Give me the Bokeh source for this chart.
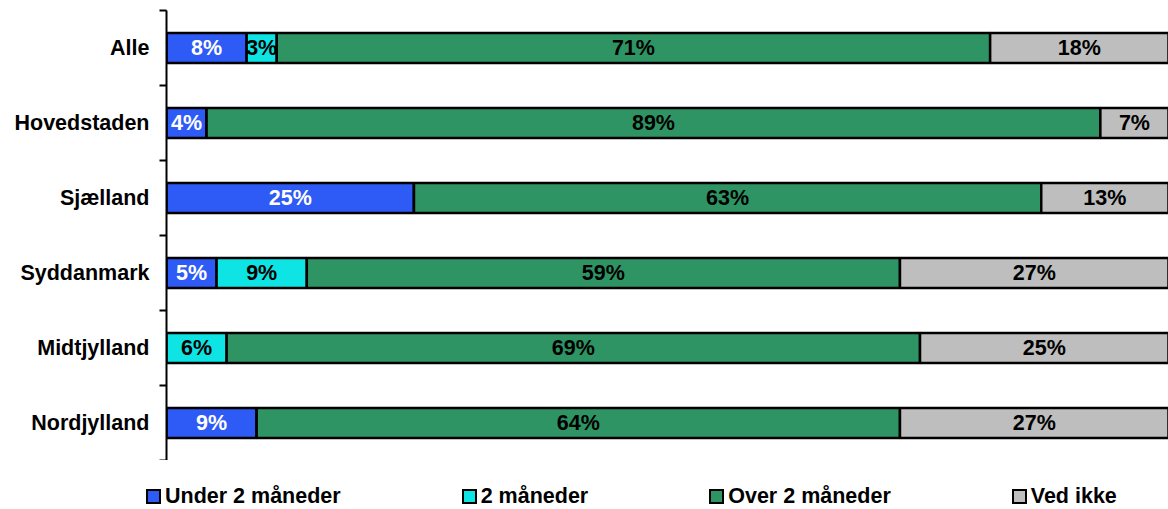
import numpy as np
from bokeh.plotting import figure
from bokeh.layouts import column
from bokeh.models import Range1d, FixedTicker, ColumnDataSource, Div
from bokeh.core.properties import value
from bokeh.embed import file_html
from bokeh.resources import INLINE

categories = ["Alle", "Hovedstaden", "Sjælland", "Syddanmark", "Midtjylland", "Nordjylland"]
series_names = ["Under 2 måneder", "2 måneder", "Over 2 måneder", "Ved ikke"]
under = [8, 4, 24.7, 5, 0, 9]
two = [3, 0, 0, 9, 6, 0]
over = [71.2, 89.2, 62.6, 59.2, 69.2, 64.2]
unknown = [17.8, 6.8, 12.7, 26.8, 24.8, 26.8]

colors = ["#2E5AF5", "#0EE4E4", "#2F9464", "#BEBEBE"]
label_colors = ["white", "black", "black", "black"]
FONT = value("Liberation Sans")
FS = "21.5px"

n = len(categories)
ypos = [n - 1 - i for i in range(n)]

p = figure(width=1168, height=460, output_backend="svg", toolbar_location=None,
           x_range=Range1d(0, 100), y_range=Range1d(-0.5, n - 0.5),
           min_border_left=166, min_border_right=0, min_border_top=10, min_border_bottom=0)
p.outline_line_color = None
p.xgrid.visible = False
p.ygrid.visible = False
p.xaxis.visible = False

yax = p.yaxis[0]
yax.ticker = FixedTicker(ticks=ypos, minor_ticks=[v - 0.5 for v in range(n + 1)])
yax.major_label_overrides = {ypos[i]: categories[i] for i in range(n)}
yax.major_tick_out = 0
yax.major_tick_in = 0
yax.minor_tick_out = 7
yax.minor_tick_in = 0
yax.minor_tick_line_width = 2
yax.minor_tick_line_color = "black"
yax.axis_line_width = 2
yax.axis_line_color = "black"
yax.major_label_standoff = 10
yax.major_label_text_font = "Liberation Sans"
yax.major_label_text_font_style = "bold"
yax.major_label_text_font_size = FS
yax.major_label_text_color = "black"

data = np.array([under, two, over, unknown], dtype=float)
lefts = np.vstack([np.zeros(n), np.cumsum(data, axis=0)[:-1]])
for k in range(4):
    src = ColumnDataSource(dict(y=ypos, left=lefts[k], right=lefts[k] + data[k]))
    p.hbar(y="y", left="left", right="right", height=0.4, source=src,
           fill_color=colors[k], line_color="black", line_width=2.5)
    mask = data[k] > 0
    tsrc = ColumnDataSource(dict(
        x=(lefts[k] + data[k] / 2)[mask],
        y=np.array(ypos)[mask],
        t=[f"{int(round(v))}%" for v in data[k][mask]],
    ))
    p.text(x="x", y="y", text="t", source=tsrc, text_align="center", text_baseline="middle",
           text_font=FONT, text_font_style="bold", text_font_size=FS,
           text_color=label_colors[k])

# legend strip below the chart
entries = []
for k in range(4):
    gap = "0" if k == 3 else "121px"
    entries.append(
        f'<span style="display:inline-flex;align-items:center;margin-right:{gap};">'
        f'<span style="display:inline-block;width:15px;height:15px;box-sizing:border-box;'
        f'border:2px solid black;background:{colors[k]};margin-right:4px;"></span>'
        f'<span>{series_names[k]}</span></span>'
    )
html = ('<div style="display:flex;align-items:center;box-sizing:border-box;width:1168px;'
        'height:49px;padding:24px 0 0 146px;font-family:\'Liberation Sans\',Arial,sans-serif;'
        'font-weight:bold;font-size:21.5px;line-height:25px;color:black;white-space:nowrap;">'
        + "".join(entries) + '</div>')
leg = Div(text=html, width=1168, height=49, margin=0)

layout = column(p, leg, spacing=0)
open("out.html", "w").write(file_html(layout, INLINE))
